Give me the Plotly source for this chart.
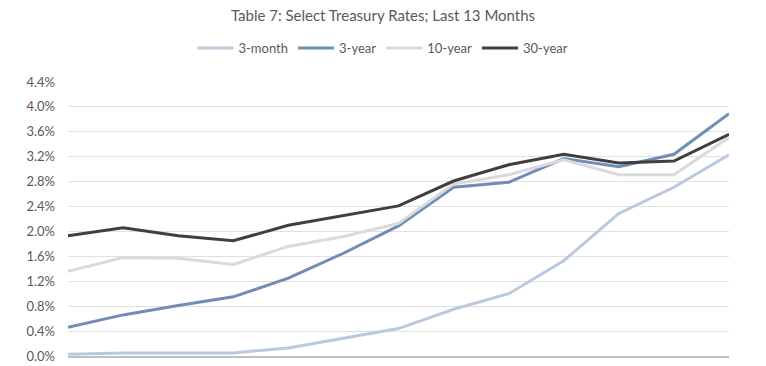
import plotly.graph_objects as go

months = [f"M{i}" for i in range(1, 14)]
three_month = [0.03, 0.05, 0.05, 0.05, 0.13, 0.28, 0.44, 0.75, 1.00, 1.53, 2.29, 2.71, 3.23]
three_year = [0.46, 0.66, 0.81, 0.95, 1.25, 1.65, 2.09, 2.71, 2.79, 3.17, 3.04, 3.24, 3.89]
ten_year = [1.36, 1.58, 1.57, 1.47, 1.76, 1.92, 2.13, 2.76, 2.91, 3.15, 2.91, 2.91, 3.51]
thirty_year = [1.93, 2.06, 1.93, 1.85, 2.10, 2.25, 2.41, 2.81, 3.07, 3.24, 3.10, 3.13, 3.56]

series = [
    ("3-month", three_month, "#B9CADF"),
    ("3-year", three_year, "#6F8DB5"),
    ("10-year", ten_year, "#DADADA"),
    ("30-year", thirty_year, "#3F3F3F"),
]

fig = go.Figure()
for name, vals, color in series:
    fig.add_trace(go.Scatter(
        x=months, y=[v / 100 for v in vals], name=name, mode="lines",
        line=dict(color=color, width=3),
    ))

font_family = "Lato, sans-serif"
fig.update_layout(
    width=766, height=366,
    margin=dict(l=68, r=37, t=82, b=10, autoexpand=False),
    paper_bgcolor="white", plot_bgcolor="white",
    font=dict(family=font_family, color="#595959", size=12),
    title=dict(text="Table 7: Select Treasury Rates; Last 13 Months",
               x=0.5, xanchor="center", xref="container",
               y=1 - 16 / 366, yanchor="middle", yref="container",
               font=dict(size=15, color="#595959", family=font_family)),
    legend=dict(orientation="h", x=0.5, xanchor="center", xref="container",
                y=1 - 48 / 366, yanchor="middle", yref="container",
                font=dict(size=13, color="#595959", family=font_family),
                itemwidth=36, tracegroupgap=0),
    showlegend=True,
)
fig.update_xaxes(showticklabels=False, showgrid=False, showline=True,
                 linecolor="#BFBFBF", linewidth=1.5, ticks="", zeroline=False)
fig.update_yaxes(range=[0, 0.044], dtick=0.004, tickformat=".1%",
                 showgrid=True, gridcolor="#E0E0E0", gridwidth=1.2,
                 zeroline=False, showline=False, ticks="", ticklen=0,
                 ticklabelstandoff=12,
                 tickfont=dict(size=13, color="#595959", family=font_family))
fig.write_html("out.html", config={"displayModeBar": False},
               post_script="document.body.style.margin='0';document.body.style.overflow='hidden';")
